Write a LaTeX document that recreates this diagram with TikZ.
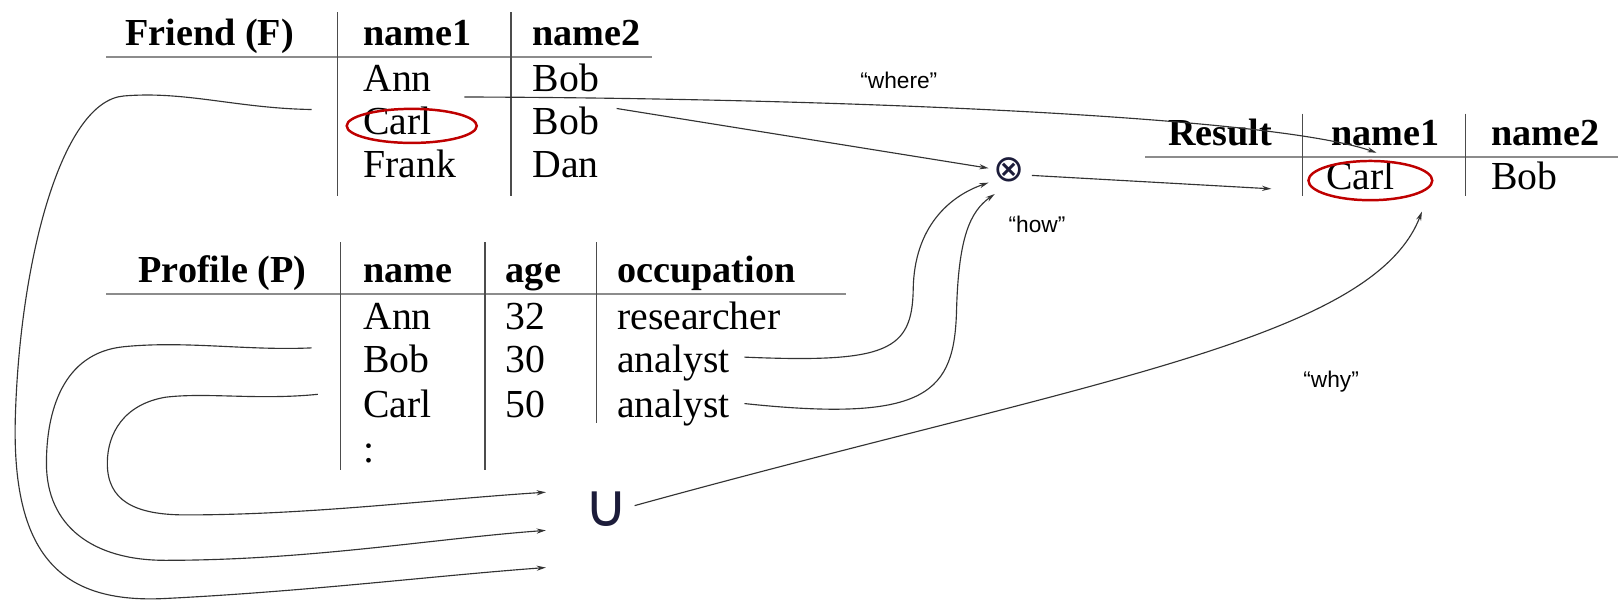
\documentclass[tikz,border=0pt]{standalone}
\usepackage{fontspec}
\setmainfont{Liberation Serif}
\newfontfamily\labfont{Liberation Sans}
\newfontfamily\symfont{DejaVu Sans}
\usetikzlibrary{arrows.meta,shapes.geometric,calc}
\definecolor{navy}{HTML}{1C1C3A}
\begin{document}
\begin{tikzpicture}[x=1pt,y=-1pt,
  txt/.style={inner sep=0pt,anchor=mid west,font=\fontsize{38.5}{40}\selectfont},
  hdr/.style={txt,font=\fontsize{37}{40}\selectfont\bfseries},
  hdre/.style={hdr,anchor=mid east},
  rule/.style={draw=black!45,line width=2.4pt},
  col/.style={draw=black!70,line width=1.4pt},
  conn/.style={draw=black!80,line width=1.1pt},
  arr/.style={conn,-{Stealth[length=9pt,width=5pt]}},
  lab/.style={font=\labfont\fontsize{22}{24}\selectfont,inner sep=0pt},
  redell/.style={draw=red!75!black,line width=2.4pt,ellipse,inner sep=0pt}
]
\useasboundingbox (0,0) rectangle (1568,583);

% ---------- Friend table ----------
\node[hdre] (fhdr) at (285,42) {Friend (F)};
\node[hdr] (fn1) at (352,42) {name1};
\node[hdr] (fn2) at (516,42) {name2};
\node[txt] (fAnn) at (352,86) {Ann};
\node[txt] (fBob1) at (516,86) {Bob};
\node[txt] (fCarl) at (352,128) {Carl};
\node[txt] (fBob2) at (516,128) {Bob};
\node[txt] (fFrank) at (352,170) {Frank};
\node[txt] (fDan) at (516,170) {Dan};
\draw[rule] (103,55) -- (632,55);
\draw[col] (327,12) -- (327,190);
\draw[col] (495,12) -- (495,190);
\node[redell,minimum width=126pt,minimum height=33pt] (eF) at (399,122) {};

% ---------- Profile table ----------
\node[hdre] (phdr) at (297,271) {Profile (P)};
\node[hdr] (pname) at (352,271) {name};
\node[hdr] (page) at (490,271) {age};
\node[hdr] (pocc) at (598,271) {occupation};
\node[txt] (pAnn) at (352,317) {Ann};
\node[txt] (p32) at (490,317) {32};
\node[txt] (pres) at (598,317) {researcher};
\node[txt] (pBob) at (352,359) {Bob};
\node[txt] (p30) at (490,359) {30};
\node[txt] (pan1) at (598,359) {analyst};
\node[txt] (pCarl) at (352,402) {Carl};
\node[txt] (p50) at (490,402) {50};
\node[txt] (pan2) at (598,402) {analyst};
\node[txt] (pdots) at (352,446) {:};
\draw[rule] (103,285) -- (820,285);
\draw[col] (330,235) -- (330,455);
\draw[col] (470,235) -- (470,455);
\draw[col] (578,235) -- (578,410);

% ---------- Result table ----------
\node[hdre] (rhdr) at (1233,139) {Result};
\node[hdr] (rn1) at (1290,139) {name1};
\node[hdr] (rn2) at (1445,139) {name2};
\node[txt] (rCarl) at (1285,181) {Carl};
\node[txt] (rBob) at (1445,181) {Bob};
\draw[rule] (1110,152) -- (1568,152);
\draw[col] (1262,110) -- (1262,190);
\draw[col] (1420,110) -- (1420,190);
\node[redell,minimum width=120pt,minimum height=38pt] (eR) at (1328,175) {};

% ---------- operators ----------
\node[inner sep=1pt,font=\symfont\fontsize{36}{36}\selectfont,text=navy] (otimes) at (978,165) {⊗};
\node[inner sep=0pt,font=\symfont\fontsize{58}{58}\selectfont,text=navy] (cup) at (588,493) {∪};

% ---------- labels ----------
\node[lab] (lwhere) at (871,78) {“where”};
\node[lab] (lhow) at (1005,217) {“how”};
\node[lab] (lwhy) at (1290,370) {“why”};

% ---------- free ends ----------
\coordinate (wst) at (450,94);
\coordinate (wend) at (1334,148);
\coordinate (rin) at (1232,183);
\coordinate (t1) at (958,177);
\coordinate (t2) at (964,188);
\coordinate (u1) at (529,477);
\coordinate (u2) at (529,514);
\coordinate (u3) at (529,550);
\coordinate (why) at (1378,205);

% ---------- connectors ----------
\draw[arr] (wst) .. controls (800,95) and (1230,112) .. (wend);
\draw[arr] ($(fBob2.east)+(17,-12)$) -- (958,163);
\draw[arr] (1000,170) -- (rin);
\draw[arr] ($(pan1.east)+(14,-6)$) .. controls (860,352) and (884,340) .. (885,280)
   .. controls (886,220) and (920,190) .. (t1);
\draw[arr] ($(pan2.east)+(14,-4)$) .. controls (900,410) and (925,380) .. (927,300)
   .. controls (929,230) and (940,205) .. (t2);
\draw[arr] ($(fCarl.west)+(-50,-11)$) .. controls (230,105) and (180,88) .. (120,93)
   .. controls (60,98) and (20,250) .. (15,400)
   .. controls (10,540) and (60,585) .. (160,580)
   .. controls (300,573) and (420,558) .. (u3);
\draw[arr] ($(pBob.west)+(-50,-11)$) .. controls (240,340) and (180,330) .. (120,336)
   .. controls (60,342) and (45,400) .. (45,449)
   .. controls (45,510) and (90,543) .. (160,543)
   .. controls (300,543) and (420,522) .. (u2);
\draw[arr] ($(pCarl.west)+(-44,-9)$) .. controls (250,388) and (200,380) .. (160,385)
   .. controls (120,392) and (104,420) .. (104,449)
   .. controls (104,485) and (130,499) .. (180,499)
   .. controls (300,499) and (420,484) .. (u1);
\draw[arr] (615,490) .. controls (1050,370) and (1330,330) .. (why);
\end{tikzpicture}
\end{document}
